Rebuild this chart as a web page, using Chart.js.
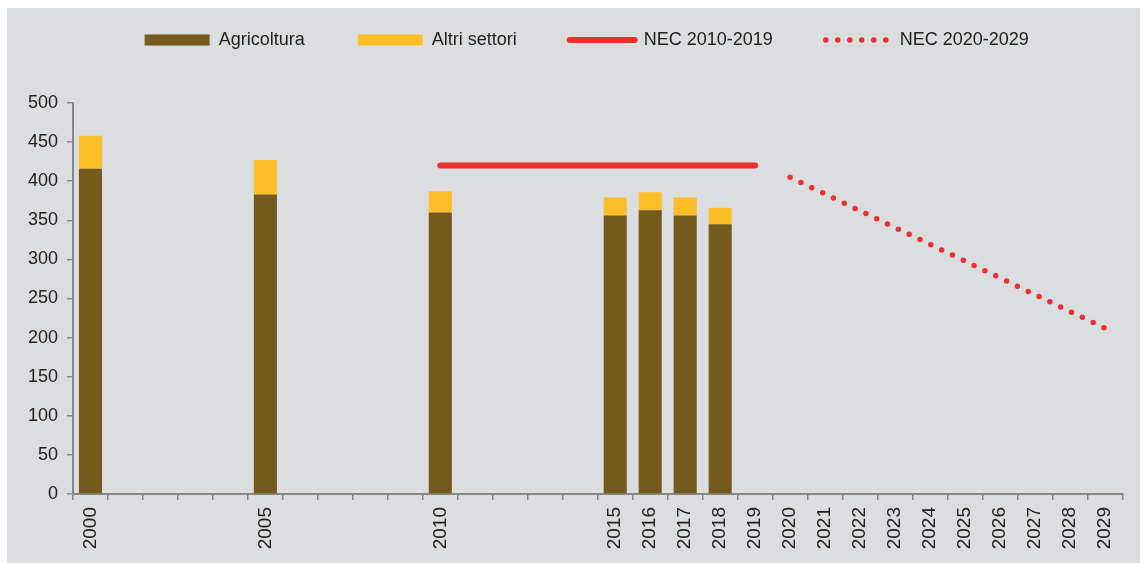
<!DOCTYPE html>
<html>
<head>
<meta charset="utf-8">
<script src="https://cdn.jsdelivr.net/npm/chart.js@4"></script>
<style>
  body { margin: 0; background: #ffffff; }
  #box { position: absolute; left: 7px; top: 8px; width: 1133px; height: 555px; background: #dcdddf; }
</style>
</head>
<body>
<div id="box"><canvas id="myChart" width="1133" height="555"></canvas></div>
<script>
// categories on the x axis (one slot per year)
var years = [2000, 2001, 2002, 2003, 2004, 2005, 2006, 2007, 2008, 2009,
             2010, 2011, 2012, 2013, 2014, 2015, 2016, 2017, 2018, 2019,
             2020, 2021, 2022, 2023, 2024, 2025, 2026, 2027, 2028, 2029];
// only these years get a tick label
var shownYears = [2000, 2005, 2010, 2015, 2016, 2017, 2018, 2019,
                  2020, 2021, 2022, 2023, 2024, 2025, 2026, 2027, 2028, 2029];

// bars
var barYears = [2000, 2005, 2010, 2015, 2016, 2017, 2018];
var agricoltura = [416, 383, 360, 356, 363, 356, 345];
var altriSettori = [42, 44, 27, 23, 23, 23, 21];

// NEC ceilings
var nec1Years = [2010, 2019];
var nec1Values = [420, 420];
var nec2Years = [2020, 2029];
var nec2Values = [405, 212];

var yTicks = [0, 50, 100, 150, 200, 250, 300, 350, 400, 450, 500];

function pts(xs, ys) {
  return xs.map(function (x, i) { return { x: String(x), y: ys[i] }; });
}

var font = "'Liberation Sans', Arial, sans-serif";
var textColor = '#222222';
var axisColor = '#878787';

// nudge the legend a little to the right, like the original
var legendShift = {
  id: 'legendShift',
  afterLayout: function (chart) {
    chart.legend.left += 12;
    chart.legend.right += 12;
  }
};

var ctx = document.getElementById('myChart').getContext('2d');
var myChart = new Chart(ctx, {
  type: 'bar',
  data: {
    labels: years.map(String),
    datasets: [
      {
        label: 'Agricoltura',
        data: pts(barYears, agricoltura),
        backgroundColor: '#755a1e',
        borderWidth: 0,
        pointStyle: 'rect',
        stack: 'bars',
        barPercentage: 0.66,
        categoryPercentage: 1
      },
      {
        label: 'Altri settori',
        data: pts(barYears, altriSettori),
        backgroundColor: '#fdbe28',
        borderWidth: 0,
        pointStyle: 'rect',
        stack: 'bars',
        barPercentage: 0.66,
        categoryPercentage: 1
      },
      {
        type: 'line',
        label: 'NEC 2010-2019',
        data: pts(nec1Years, nec1Values),
        borderColor: '#ee3031',
        backgroundColor: '#ee3031',
        borderWidth: 6,
        borderCapStyle: 'round',
        pointRadius: 0,
        pointHoverRadius: 0,
        pointStyle: 'line',
        stack: 'nec1'
      },
      {
        type: 'line',
        label: 'NEC 2020-2029',
        data: pts(nec2Years, nec2Values),
        borderColor: '#ee3031',
        backgroundColor: '#ee3031',
        borderWidth: 5.5,
        borderDash: [0, 12],
        borderCapStyle: 'round',
        pointRadius: 0,
        pointHoverRadius: 0,
        pointStyle: 'line',
        stack: 'nec2'
      }
    ]
  },
  options: {
    responsive: false,
    animation: false,
    layout: { padding: { top: -30, left: 20, right: 17.5, bottom: 0 } },
    plugins: {
      tooltip: { enabled: false },
      // empty title used only as a spacer between legend and plot
      title: { display: true, text: '', weight: 500, font: { size: 10, lineHeight: 1 }, padding: { top: 34, bottom: 0 } },
      legend: {
        position: 'top',
        labels: {
          usePointStyle: true,
          pointStyleWidth: 65,
          boxHeight: 11,
          padding: 53,
          color: textColor,
          font: { family: font, size: 18 },
          generateLabels: function (chart) {
            var items = Chart.defaults.plugins.legend.labels.generateLabels(chart);
            items.forEach(function (it) {
              var ds = chart.data.datasets[it.datasetIndex];
              if (ds.type === 'line') {
                it.lineWidth = ds.borderWidth;
                it.lineDash = ds.borderDash || [];
                it.lineCap = 'round';
                it.strokeStyle = ds.borderColor;
              }
            });
            return items;
          }
        }
      }
    },
    scales: {
      x: {
        stacked: true,
        offset: true,
        grid: { offset: true, drawOnChartArea: false, drawTicks: true, tickLength: 6, color: axisColor, lineWidth: 1.5 },
        border: { color: axisColor, width: 2 },
        ticks: {
          autoSkip: false,
          minRotation: 90,
          maxRotation: 90,
          padding: 7,
          color: textColor,
          font: { family: font, size: 19 },
          callback: function (v, i) {
            return shownYears.indexOf(years[i]) >= 0 ? String(years[i]) : '';
          }
        },
        afterFit: function (scale) { scale.height = 69; }
      },
      y: {
        stacked: true,
        min: 0,
        max: 500,
        afterBuildTicks: function (scale) { scale.ticks = yTicks.map(function (v) { return { value: v }; }); },
        grid: { drawOnChartArea: false, drawTicks: true, tickLength: 6, color: axisColor, lineWidth: 1.5 },
        border: { color: axisColor, width: 2 },
        ticks: {
          padding: 9,
          color: textColor,
          font: { family: font, size: 18 }
        },
        afterFit: function (scale) { scale.width = 46; }
      }
    }
  },
  plugins: [legendShift]
});
</script>
</body>
</html>
